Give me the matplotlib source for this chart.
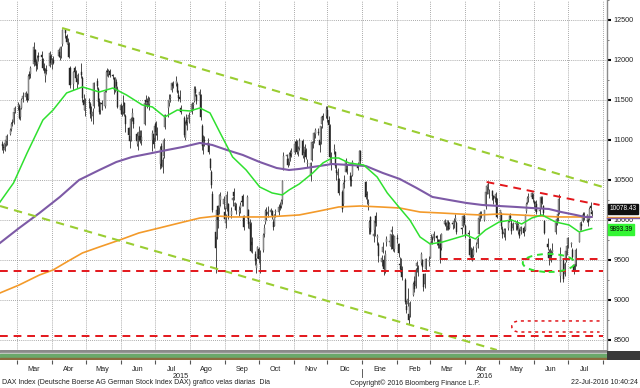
import matplotlib
matplotlib.use('Agg')
import matplotlib.pyplot as plt
import matplotlib.dates as mdates
import matplotlib.ticker as mticker
import matplotlib.transforms as mtransforms
from matplotlib.patches import Ellipse, Rectangle, PathPatch
from matplotlib.path import Path
import pandas as pd
import numpy as np

plt.rcParams['font.family'] = ['Liberation Sans', 'DejaVu Sans']

# ------------------------------------------------------------------ data
first_day = '2015-02-16'
last_day = '2016-07-22'
holidays = ['2015-04-03', '2015-04-06', '2015-05-01', '2015-12-24', '2015-12-25',
            '2015-12-31', '2016-01-01', '2016-03-25', '2016-03-28']

open_ = [
    10950, 10910, 10880, 10950, 10990, 11080, 11140, 11220, 11230, 11360,
    11410, 11430, 11290, 11400, 11510, 11540, 11570, 11510, 11820, 11820, 11950, 12130, 11970, 11950, 12040, 12060, 12010, 11900, 11800, 11880, 11920, 12050,
    11950, 12000, 12050, 12100, 12050, 12200, 12370, 12300, 12200, 12200, 11900, 11700, 11900, 11850, 11770, 11760, 11850, 11780, 11500, 11380,
    11470, 11450, 11320, 11300, 11420, 11740, 11640, 11480, 11380, 11460, 11420, 11620, 11860, 11820, 11860, 11810, 11780, 11640, 11720, 11640,
    11380, 11420, 11350, 11460, 11300, 11150, 11050, 11000, 11290, 11270, 11080, 10950, 11050, 11050, 11000, 11200, 11500, 11450, 11490, 11450, 11000, 11080,
    11020, 11200, 11080, 10700, 10920, 10660, 10800, 11160, 11400, 11460, 11520, 11620, 11700, 11700, 11700, 11560, 11540, 11400, 11280, 11030, 11250, 11220, 11260,
    11350, 11440, 11490, 11640, 11560, 11560, 11560, 11180, 10980, 11000, 10960, 10950, 10760, 10600, 10330, 9850, 9790, 10170, 10150, 10250, 10200,
    10100, 9960, 10140, 10200, 10060, 10250, 10350, 10180, 10170, 10100, 10150, 10230, 10300, 10050, 10050, 10130, 9890, 9950, 9730, 9580, 9400, 9540,
    9640, 9550, 9620, 9820, 9970, 10100, 10080, 10100, 10110, 9980, 9930, 10100, 10100, 10180, 10180, 10250, 10650, 10800, 10760, 10730, 10840, 10830,
    10850, 10970, 10980, 10850, 10900, 10990, 10800, 10850, 10870, 10700, 10550, 10750, 10950, 11000, 11080, 11100, 11000, 10980, 11200, 11300, 11300,
    11370, 11250, 11180, 10700, 10880, 10850, 10620, 10560, 10510, 10350, 10200, 10500, 10600, 10640, 10550, 10500, 10560, 10680, 10700, 10860,
    10480, 10320, 10200, 9900, 10040, 9800, 9880, 10050, 9780, 9700, 9480, 9600, 9500, 9380, 9720, 9720, 9680, 9850, 9800, 9640,
    9780, 9700, 9450, 9420, 9390, 9250, 8920, 8950, 8830, 8800, 9060, 9240, 9180, 9420, 9400, 9460, 9500, 9320, 9200, 9390, 9470,
    9530, 9740, 9770, 9770, 9800, 9750, 9690, 9700, 9650, 9950, 9960, 9920, 9980, 9900, 9950, 9940, 10000, 9960, 9900, 9920, 10040,
    9930, 9830, 9760, 9540, 9620, 9560, 9650, 9700, 9830, 10010, 10060, 10000, 10170, 10350, 10410, 10330, 10360, 10300, 10280, 10290, 10270,
    10000, 10080, 9890, 9820, 9840, 9900, 10010, 10050, 9960, 9900, 9950, 9920, 9850, 9870, 9860, 9900, 9880, 10110, 10230, 10280, 10290, 10310,
    10230, 10180, 10200, 10110, 10160, 10270, 10170, 9990, 9700, 9600, 9560, 9580, 9600, 9850, 9990, 10020, 10090, 9300, 9500, 9330, 9500, 9610,
    9700, 9700, 9630, 9440, 9440, 9450, 9730, 9880, 9950, 9990, 10070, 10000, 10000, 10010, 10180, 10100,
]
high = [
    10990, 10945, 10990, 11030, 11080, 11150, 11230, 11265, 11360, 11420,
    11470, 11450, 11400, 11520, 11600, 11610, 11590, 11820, 11860, 11920, 12220, 12140, 12010, 12060, 12100, 12110, 12030, 11960, 11900, 11940, 12110, 12070,
    12030, 12050, 12150, 12130, 12180, 12390, 12390, 12330, 12280, 12220, 11920, 11860, 11930, 11880, 11800, 11840, 11960, 11800, 11570, 11520,
    11520, 11480, 11420, 11400, 11720, 11780, 11660, 11520, 11470, 11500, 11620, 11880, 11900, 11890, 11890, 11830, 11790, 11790, 11760, 11680,
    11460, 11440, 11560, 11480, 11320, 11160, 11080, 11290, 11400, 11290, 11100, 11090, 11170, 11130, 11130, 11500, 11560, 11530, 11550, 11540, 11130, 11120,
    11230, 11240, 11160, 10930, 10960, 10790, 11030, 11330, 11500, 11570, 11580, 11730, 11740, 11800, 11720, 11620, 11620, 11440, 11300, 11240, 11330, 11290, 11350,
    11470, 11480, 11670, 11670, 11580, 11640, 11580, 11200, 11060, 11050, 11020, 10960, 10780, 10630, 10360, 9900, 10140, 10190, 10330, 10350, 10300,
    10160, 10080, 10360, 10210, 10160, 10300, 10400, 10230, 10210, 10180, 10220, 10280, 10330, 10060, 10310, 10140, 10010, 9980, 9790, 9610, 9520, 9680,
    9660, 9620, 9840, 9950, 10140, 10160, 10180, 10150, 10130, 10010, 10080, 10140, 10200, 10230, 10260, 10500, 10850, 10830, 10780, 10850, 10880, 10900,
    10990, 11010, 11000, 10920, 11030, 11010, 10860, 10950, 10900, 10760, 10720, 10990, 11000, 11100, 11150, 11150, 11040, 11180, 11300, 11340, 11430,
    11430, 11300, 11200, 10850, 10950, 10860, 10700, 10650, 10520, 10380, 10480, 10560, 10780, 10700, 10600, 10560, 10750, 10720, 10880, 10880,
    10490, 10360, 10260, 10000, 10050, 9940, 10010, 10100, 9830, 9720, 9560, 9720, 9560, 9620, 9800, 9790, 9830, 9920, 9820, 9800,
    9830, 9710, 9540, 9520, 9430, 9280, 9000, 9150, 8880, 8990, 9220, 9300, 9400, 9490, 9440, 9600, 9510, 9330, 9340, 9530, 9550,
    9730, 9820, 9800, 9860, 9810, 9760, 9760, 9830, 9840, 10010, 9980, 10000, 10000, 9980, 9990, 10020, 10070, 9990, 9910, 10060, 10070,
    9950, 9880, 9770, 9660, 9650, 9680, 9720, 9790, 10040, 10110, 10110, 10130, 10360, 10450, 10490, 10390, 10370, 10310, 10320, 10350, 10280,
    10130, 10100, 9920, 9900, 9900, 10000, 10060, 10090, 10010, 9980, 9980, 10000, 9960, 9900, 9930, 9920, 10070, 10220, 10300, 10340, 10350, 10340,
    10250, 10240, 10250, 10160, 10300, 10300, 10190, 10000, 9780, 9640, 9650, 9620, 9710, 9990, 10070, 10110, 10330, 9660, 9520, 9480, 9640, 9700,
    9790, 9730, 9650, 9450, 9500, 9650, 9850, 9980, 9990, 10100, 10100, 10080, 10030, 10160, 10230, 10130,
]
low = [
    10880, 10840, 10860, 10930, 10940, 11060, 11110, 11170, 11200, 11340,
    11380, 11260, 11250, 11390, 11480, 11500, 11470, 11500, 11760, 11780, 11930, 11940, 11860, 11890, 11990, 12000, 11870, 11840, 11720, 11820, 11910, 11950,
    11890, 11950, 12040, 12000, 12020, 12180, 12270, 12200, 12160, 12020, 11650, 11620, 11800, 11760, 11650, 11700, 11780, 11480, 11380, 11300,
    11400, 11280, 11240, 11200, 11400, 11640, 11430, 11320, 11330, 11380, 11400, 11600, 11800, 11790, 11790, 11760, 11580, 11600, 11630, 11400,
    11320, 11300, 11320, 11300, 11100, 11020, 10900, 10990, 11240, 11150, 10930, 10880, 10990, 10960, 10940, 11190, 11430, 11400, 11430, 11380, 10860, 10900,
    10990, 11060, 11000, 10640, 10650, 10590, 10780, 11140, 11290, 11430, 11480, 11600, 11650, 11680, 11590, 11490, 11480, 11330, 11040, 11000, 11190, 11130, 11210,
    11320, 11370, 11470, 11550, 11450, 11530, 11250, 10870, 10830, 10930, 10870, 10820, 10620, 10400, 10100, 9340, 9760, 9900, 10070, 10180, 10140,
    9990, 9900, 10110, 10010, 10020, 10170, 10250, 10120, 10080, 10050, 10090, 10170, 10180, 9880, 10020, 9900, 9840, 9600, 9590, 9440, 9340, 9530,
    9460, 9340, 9600, 9790, 9950, 10000, 10040, 10060, 10010, 9880, 9920, 10040, 10060, 10120, 10150, 10200, 10620, 10740, 10660, 10690, 10740, 10790,
    10830, 10900, 10830, 10800, 10880, 10780, 10730, 10820, 10760, 10660, 10490, 10740, 10900, 10960, 11030, 11060, 10850, 10950, 11150, 11250, 11270,
    11220, 11150, 10750, 10630, 10820, 10650, 10500, 10480, 10310, 10100, 10180, 10400, 10600, 10580, 10420, 10430, 10550, 10620, 10690, 10700,
    10260, 10200, 10120, 9820, 9830, 9730, 9800, 9920, 9690, 9470, 9420, 9590, 9310, 9340, 9680, 9670, 9640, 9760, 9610, 9600,
    9710, 9540, 9350, 9340, 9250, 8950, 8840, 8930, 8700, 8790, 9050, 9100, 9150, 9350, 9300, 9440, 9380, 9110, 9150, 9370, 9430,
    9520, 9710, 9700, 9740, 9690, 9650, 9650, 9460, 9620, 9920, 9880, 9880, 9870, 9890, 9890, 9900, 9980, 9830, 9820, 9910, 9940,
    9770, 9770, 9550, 9520, 9490, 9540, 9600, 9650, 9820, 9990, 10020, 9990, 10140, 10330, 10380, 10270, 10250, 10200, 10230, 10220, 10020,
    9990, 9890, 9770, 9790, 9750, 9880, 9980, 9990, 9830, 9880, 9880, 9880, 9830, 9780, 9820, 9800, 9860, 10090, 10200, 10230, 10270, 10230,
    10140, 10110, 10080, 10060, 10150, 10200, 10050, 9830, 9630, 9440, 9500, 9470, 9570, 9830, 9940, 9990, 10080, 9220, 9230, 9300, 9480, 9560,
    9650, 9660, 9500, 9330, 9370, 9420, 9720, 9870, 9880, 9980, 10000, 9970, 9920, 10000, 10110, 10050,
]
close = [
    10924, 10895, 10961, 11001, 11050, 11131, 11206, 11211, 11352, 11401,
    11436, 11280, 11390, 11504, 11550, 11582, 11500, 11805, 11799, 11901, 12167, 11980, 11922, 12019, 12039, 12040, 11895, 11862, 11843, 11868, 12086, 11966,
    12001, 11967, 12123, 12036, 12166, 12375, 12338, 12227, 12231, 12036, 11688, 11850, 11852, 11773, 11723, 11811, 11811, 11519, 11432, 11454,
    11463, 11327, 11351, 11350, 11709, 11673, 11472, 11351, 11447, 11448, 11594, 11854, 11848, 11864, 11815, 11800, 11625, 11771, 11673, 11413,
    11436, 11327, 11419, 11340, 11197, 11064, 10985, 11265, 11332, 11196, 10984, 11045, 11100, 11006, 11040, 11460, 11471, 11472, 11473, 11493, 11084, 10945,
    11181, 11099, 11058, 10891, 10676, 10747, 10997, 11316, 11485, 11517, 11540, 11716, 11673, 11735, 11604, 11520, 11512, 11347, 11057, 11199, 11212, 11257, 11309,
    11444, 11456, 11637, 11585, 11490, 11605, 11293, 10925, 10985, 10985, 10940, 10846, 10655, 10432, 10124, 9648, 10128, 9998, 10315, 10298, 10259,
    10016, 10048, 10318, 10038, 10108, 10271, 10303, 10210, 10123, 10131, 10188, 10227, 10229, 9916, 10292, 9948, 9970, 9612, 9688, 9483, 9450, 9660,
    9509, 9553, 9814, 9902, 10118, 10064, 10096, 10119, 10032, 9915, 10064, 10104, 10165, 10147, 10238, 10491, 10795, 10801, 10692, 10831, 10801, 10850,
    10951, 10959, 10845, 10887, 10988, 10815, 10832, 10907, 10783, 10708, 10713, 10971, 10959, 11085, 11119, 11092, 10934, 11169, 11285, 11293, 11382,
    11261, 11190, 10789, 10752, 10887, 10673, 10592, 10598, 10340, 10139, 10450, 10470, 10738, 10608, 10497, 10488, 10727, 10653, 10860, 10743,
    10283, 10310, 10214, 9979, 9849, 9825, 9985, 9960, 9794, 9545, 9521, 9664, 9391, 9574, 9764, 9736, 9822, 9880, 9639, 9798,
    9757, 9582, 9434, 9393, 9286, 8979, 8879, 9017, 8752, 8967, 9206, 9135, 9377, 9463, 9388, 9574, 9416, 9167, 9331, 9513, 9495,
    9717, 9777, 9751, 9824, 9778, 9692, 9723, 9499, 9831, 9990, 9933, 9983, 9892, 9950, 9948, 9990, 10022, 9851, 9887, 10046, 9965,
    9794, 9822, 9564, 9624, 9530, 9622, 9682, 9761, 10027, 10093, 10051, 10120, 10350, 10421, 10435, 10373, 10294, 10260, 10299, 10321, 10039,
    10123, 9926, 9828, 9851, 9870, 9980, 10045, 10020, 9862, 9952, 9952, 9891, 9943, 9795, 9916, 9842, 10057, 10205, 10272, 10286, 10333, 10263,
    10205, 10208, 10103, 10121, 10287, 10217, 10088, 9834, 9657, 9519, 9606, 9550, 9631, 9962, 10015, 10071, 10257, 9557, 9268, 9448, 9612, 9680,
    9776, 9709, 9532, 9373, 9418, 9629, 9833, 9964, 9930, 10068, 10066, 10063, 9981, 10142, 10147, 10078,
]

# moving averages
green_dates = ['2015-02-14', '2015-02-26', '2015-03-10', '2015-03-24', '2015-04-02', '2015-04-14',
               '2015-04-28', '2015-05-13', '2015-05-25', '2015-06-06', '2015-06-20', '2015-06-29',
               '2015-07-10', '2015-07-21', '2015-08-01', '2015-08-10', '2015-08-19', '2015-08-28',
               '2015-09-08', '2015-09-20', '2015-10-02', '2015-10-13', '2015-10-22', '2015-10-28',
               '2015-11-06', '2015-11-18', '2015-11-27', '2015-12-05', '2015-12-11', '2015-12-20',
               '2016-01-02', '2016-01-14', '2016-01-23', '2016-02-03', '2016-02-12', '2016-02-21',
               '2016-03-01', '2016-03-12', '2016-03-24', '2016-04-02', '2016-04-10', '2016-04-19',
               '2016-05-01', '2016-05-12', '2016-05-21', '2016-05-30', '2016-06-08', '2016-06-20',
               '2016-07-02', '2016-07-11', '2016-07-17', '2016-07-22']
green_vals = [10225, 10463, 10838, 11250, 11375, 11588, 11663, 11600, 11650, 11563, 11438, 11413,
              11288, 11375, 11363, 11400, 11338, 11088, 10788, 10625, 10413, 10338, 10313, 10375,
              10450, 10588, 10713, 10775, 10775, 10713, 10688, 10538, 10338, 10150, 10000, 9788,
              9700, 9725, 9775, 9813, 9763, 9875, 9975, 10000, 9950, 10025, 10063, 9975,
              9938, 9850, 9875, 9893]

purple_dates = ['2015-02-14', '2015-03-03', '2015-03-21', '2015-04-08', '2015-04-25', '2015-05-13',
                '2015-05-28', '2015-06-11', '2015-06-29', '2015-07-12', '2015-07-26', '2015-08-10',
                '2015-08-21', '2015-09-03', '2015-09-17', '2015-10-02', '2015-10-17', '2015-10-28',
                '2015-11-06', '2015-11-24', '2015-12-05', '2015-12-20', '2016-01-04', '2016-01-19',
                '2016-02-03', '2016-02-18', '2016-03-03', '2016-03-18', '2016-04-02', '2016-04-16',
                '2016-05-01', '2016-05-16', '2016-05-30', '2016-06-14', '2016-06-25', '2016-07-08',
                '2016-07-16', '2016-07-22']
purple_vals = [9713, 9900, 10088, 10288, 10500, 10625, 10725, 10788, 10838, 10875, 10913, 10963,
               10938, 10875, 10813, 10725, 10650, 10625, 10638, 10675, 10700, 10688, 10675, 10588,
               10513, 10400, 10288, 10250, 10213, 10188, 10175, 10163, 10150, 10138, 10100, 10063,
               10038, 10038]

orange_dates = ['2015-02-14', '2015-03-03', '2015-03-21', '2015-04-02', '2015-04-14', '2015-04-28',
                '2015-05-13', '2015-05-31', '2015-06-17', '2015-07-05', '2015-07-23', '2015-08-10',
                '2015-08-25', '2015-09-08', '2015-09-23', '2015-10-08', '2015-10-22', '2015-11-06',
                '2015-11-24', '2015-12-11', '2015-12-30', '2016-01-17', '2016-02-03', '2016-02-21',
                '2016-03-10', '2016-03-27', '2016-04-14', '2016-05-01', '2016-05-19', '2016-06-05',
                '2016-06-23', '2016-07-10', '2016-07-22']
orange_vals = [9088, 9188, 9313, 9375, 9475, 9588, 9663, 9750, 9838, 9900, 9963, 10025,
               10050, 10038, 10038, 10038, 10050, 10063, 10113, 10163, 10175, 10163, 10150, 10100,
               10088, 10075, 10063, 10075, 10063, 10050, 10038, 10038, 10038]

# drawn trend lines / levels
upper_channel_dates = ['2015-04-10', '2016-08-04']
upper_channel_vals = [12400, 10400]
lower_channel_dates = ['2015-02-14', '2016-04-29']
lower_channel_vals = [10175, 8375]
resist_dates = ['2016-04-20', '2016-07-29']
resist_vals = [10475, 10188]
level_full = [9360, 8550]
level_short = 9510
level_short_start = '2016-03-10'
levels_end = '2016-08-01'
bracket_dates = ['2016-05-10', '2016-05-19', '2016-07-29']
bracket_vals = [8738, 8600]
ellipse_center = ('2016-06-14', 9463)
ellipse_size = (46, 225)

last_price = 10078.43
ma_green_last = 9893.39
month_names = ['Ene', 'Feb', 'Mar', 'Abr', 'May', 'Jun', 'Jul', 'Ago', 'Sep', 'Oct', 'Nov', 'Dic']
view_start = '2015-02-14'
view_days = 537.6
y_range = (8375, 12750)

footer_left = 'DAX Index (Deutsche Boerse AG German Stock Index DAX) grafico velas diarias  Dia'
footer_mid = 'Copyright\u00a9 2016 Bloomberg Finance L.P.'
footer_right = '22-Jul-2016 10:40:24'

# ------------------------------------------------------------------ figure
W, H = 640, 388
fig = plt.figure(figsize=(W / 100, H / 100), dpi=100)
fig.patch.set_facecolor('white')

ax = fig.add_axes([0, 1 - 350 / H, 607 / W, 350 / H])
d2n = lambda s: mdates.date2num(pd.Timestamp(s))
x0 = d2n(view_start)
ax.set_xlim(x0, x0 + view_days)
ax.set_ylim(*y_range)

dates = pd.bdate_range(first_day, last_day, freq='C', holidays=holidays)
n = min(len(dates), len(close), len(open_), len(high), len(low))
xd = mdates.date2num(dates[:n])
o = np.array(open_[:n], float)
h = np.array(high[:n], float)
l = np.array(low[:n], float)
c = np.array(close[:n], float)

up = c >= o
bb = np.minimum(o, c)
bh = np.maximum(np.abs(c - o), 10)
ax.vlines(xd, l, h, color='#4a4a4a', lw=0.7, zorder=3)
ax.bar(xd[up], bh[up], bottom=bb[up], width=0.9, color='#adadad', edgecolor='#555555',
       linewidth=0.3, zorder=4)
ax.bar(xd[~up], bh[~up], bottom=bb[~up], width=0.9, color='#262626', edgecolor='#262626',
       linewidth=0.3, zorder=4)

# moving averages
ax.plot([d2n(d) for d in orange_dates], orange_vals, color='#f39a2a', lw=1.2, zorder=5)
ax.plot([d2n(d) for d in purple_dates], purple_vals, color='#7d5aa6', lw=1.5, zorder=5)
ax.plot([d2n(d) for d in green_dates], green_vals, color='#2fe02f', lw=1.1, zorder=6)

# channel (yellow-green dashed)
tl_kw = dict(color='#9acd32', lw=1.5, dashes=(4, 3), zorder=7)
ax.plot([d2n(d) for d in upper_channel_dates], upper_channel_vals, **tl_kw)
ax.plot([d2n(d) for d in lower_channel_dates], lower_channel_vals, **tl_kw)

# red levels
red_kw = dict(color='#e3161b', lw=1.4, dashes=(4, 3), zorder=7)
for lv in level_full:
    ax.plot([x0, d2n(levels_end)], [lv, lv], **red_kw)
ax.plot([d2n(level_short_start), d2n(levels_end)], [level_short, level_short], **red_kw)
ax.plot([d2n(d) for d in resist_dates], resist_vals, **red_kw)

# dotted red bracket
bx_l, bx_s, bx_e = [d2n(d) for d in bracket_dates]
verts = [(bx_e, bracket_vals[0]), (bx_s, bracket_vals[0]),
         (bx_l, bracket_vals[0]), (bx_l, bracket_vals[1]), (bx_s, bracket_vals[1]),
         (bx_e, bracket_vals[1])]
codes = [Path.MOVETO, Path.LINETO, Path.CURVE4, Path.CURVE4, Path.CURVE4, Path.LINETO]
ax.add_patch(PathPatch(Path(verts, codes), fill=False, edgecolor='#e3161b', lw=1.1,
                       linestyle=(0, (2, 2.5)), zorder=7))

# green dashed ellipse
ax.add_patch(Ellipse((d2n(ellipse_center[0]), ellipse_center[1]), ellipse_size[0],
                     ellipse_size[1], fill=False, edgecolor='#2fe02f', lw=1.4,
                     linestyle=(0, (3, 2.5)), zorder=7))

# axes styling
for s in ['top', 'left', 'bottom']:
    ax.spines[s].set_visible(False)
ax.spines['right'].set_color('#8c8c8c')
ax.spines['right'].set_linewidth(1.0)
ax.xaxis.set_major_locator(mdates.MonthLocator())
ax.yaxis.set_major_locator(mticker.MultipleLocator(500))
ax.yaxis.set_minor_locator(mticker.MultipleLocator(250))
ax.yaxis.set_major_formatter(mticker.FuncFormatter(lambda v, p: f'{int(v)}'))
ax.yaxis.tick_right()
ax.tick_params(axis='x', which='both', length=0, labelbottom=False)
ax.tick_params(axis='y', which='major', direction='out', length=3, width=1.5,
               color='black', pad=1.5, labelsize=5.2, labelcolor='#222222')
ax.tick_params(axis='y', which='minor', direction='out', length=1.5, width=0.6, color='#666666')
ax.grid(True, which='major', axis='both', color='#8e8e8e', lw=0.6, linestyle=(0, (1, 1.5)))
ax.set_axisbelow(True)

# value flags on the right
blend = mtransforms.blended_transform_factory(ax.transAxes, ax.transData)
ax.plot([1.0, 1.06], [10040, 10040], color='#f39a2a', lw=1.0, transform=blend,
        clip_on=False, zorder=8)
ax.plot([1.0, 1.06], [10025, 10025], color='#7d5aa6', lw=1.0, transform=blend,
        clip_on=False, zorder=8)
ax.text(1.004, last_price + 60, f'{last_price:.2f}', transform=blend, ha='left', va='center',
        fontsize=4.7, color='white', clip_on=False, zorder=9,
        bbox=dict(boxstyle='square,pad=0.28', fc='#111111', ec='#111111'))
ax.text(1.004, ma_green_last - 10, f'{ma_green_last:.2f}', transform=blend, ha='left',
        va='center', fontsize=4.7, color='black', clip_on=False, zorder=9,
        bbox=dict(boxstyle='square,pad=0.28', fc='#33f533', ec='#33f533'))

# bottom strip with date axis
ax2 = fig.add_axes([0, 1 - 360 / H, 607 / W, 10 / H])
ax2.set_xlim(x0, x0 + view_days)
ax2.set_ylim(0, 1)
ax2.axhspan(0.75, 1.0, color='#8a8a8a')
ax2.axhspan(0.62, 0.75, color='#cfcfcf')
ax2.axhspan(0.18, 0.62, color='#6aa86a')
ax2.axhspan(0.0, 0.18, color='#8a6a3c')
for s in ax2.spines.values():
    s.set_visible(False)
ax2.set_yticks([])
ax2.xaxis.set_major_locator(mdates.MonthLocator())
ax2.xaxis.set_minor_locator(mdates.MonthLocator(bymonthday=16))
ax2.xaxis.set_major_formatter(mticker.NullFormatter())


def month_fmt(v, pos):
    d = mdates.num2date(v)
    if v < d2n('2015-03-01'):
        return ''
    return month_names[d.month - 1]


ax2.xaxis.set_minor_formatter(mticker.FuncFormatter(month_fmt))
ax2.tick_params(axis='x', which='major', direction='out', length=3, width=0.8, color='#555555')
ax2.tick_params(axis='x', which='minor', length=0, pad=4, labelsize=5.2, labelcolor='#222222')

# dark block at right end of strip
fig.patches.append(Rectangle((607 / W, 1 - 360 / H), 33 / W, 9 / H, transform=fig.transFigure,
                             fc='#3a3a3a', ec='none'))

# year labels
yb = mtransforms.blended_transform_factory(ax2.transData, ax2.transAxes)
jan16 = d2n('2016-01-01')
ax2.text((x0 + jan16) / 2, -1.65, '2015', transform=yb, ha='center', va='center',
         fontsize=5.2, color='#222222', clip_on=False)
ax2.text((jan16 + x0 + view_days) / 2, -1.65, '2016', transform=yb, ha='center',
         va='center', fontsize=5.2, color='#222222', clip_on=False)
ax2.plot([jan16, jan16], [-0.9, -1.7], color='#444444', lw=0.6, transform=yb, clip_on=False)

# footer
fig.text(2 / W, 1 - 383 / H, footer_left, fontsize=5.0, ha='left', va='center', color='#222222')
fig.text(415 / W, 1 - 383 / H, footer_mid, fontsize=5.0, ha='center', va='center', color='#222222')
fig.text(638 / W, 1 - 383 / H, footer_right, fontsize=5.0, ha='right', va='center', color='#222222')

fig.savefig('out.png', dpi=100, facecolor='white')
